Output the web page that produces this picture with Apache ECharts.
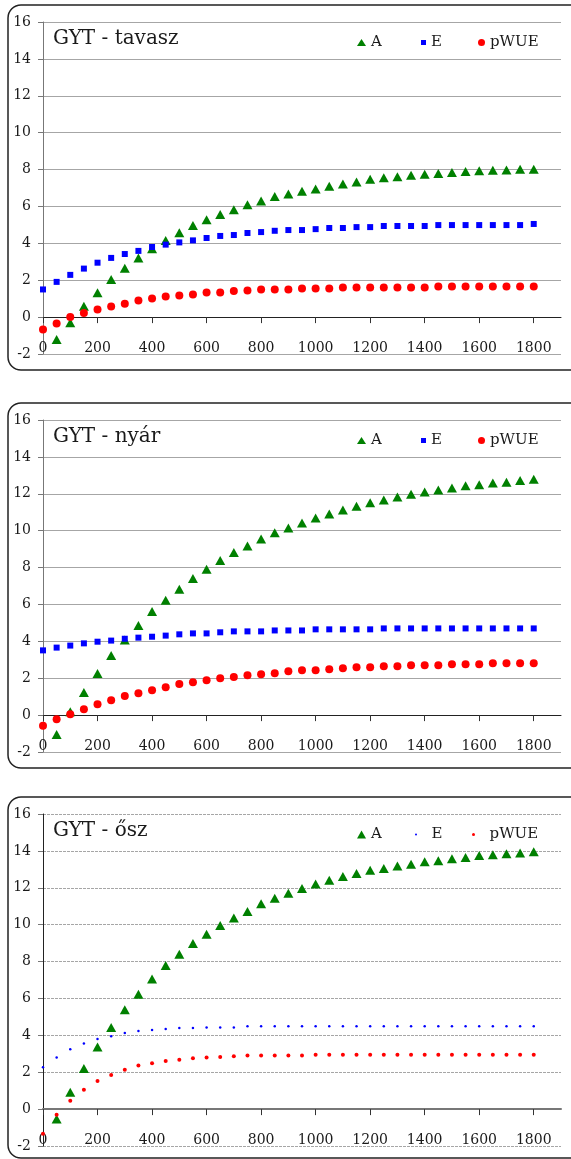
<!DOCTYPE html>
<html>
<head>
<meta charset="utf-8">
<title>GYT</title>
<script src="https://cdn.jsdelivr.net/npm/echarts@6.0.0/dist/echarts.min.js"></script>
<style>
html, body { margin: 0; padding: 0; background: #fff; overflow: hidden; }
#main { width: 571px; height: 1159px; }
</style>
</head>
<body>
<div id="main"></div>
<script>
// x: fényintenzitás lépcsők
const xVals = [0, 50, 100, 150, 200, 250, 300, 350, 400, 450, 500, 550, 600, 650, 700, 750, 800, 850, 900,
  950, 1000, 1050, 1100, 1150, 1200, 1250, 1300, 1350, 1400, 1450, 1500, 1550, 1600, 1650, 1700, 1750, 1800]
const xTicks = [0, 200, 400, 600, 800, 1000, 1200, 1400, 1600, 1800]
const titles = ['GYT - tavasz', 'GYT - nyár', 'GYT - ősz']
const names = ['A', 'E', 'pWUE']

// tavasz
const tavaszA = [null, -1.21, -0.31, 0.59, 1.32, 2.04, 2.65, 3.21, 3.71, 4.16, 4.58, 4.97, 5.28, 5.57, 5.82, 6.09, 6.29, 6.54, 6.68,
  6.83, 6.95, 7.10, 7.22, 7.33, 7.48, 7.55, 7.61, 7.69, 7.75, 7.78, 7.84, 7.89, 7.93, 7.96, 7.98, 8.02, 8.02]
const tavaszE = [1.50, 1.91, 2.29, 2.63, 2.95, 3.21, 3.42, 3.59, 3.80, 3.93, 4.05, 4.16, 4.29, 4.40, 4.45, 4.56, 4.61, 4.68, 4.72,
  4.72, 4.77, 4.83, 4.83, 4.88, 4.88, 4.94, 4.94, 4.94, 4.94, 4.99, 4.99, 4.99, 4.99, 4.99, 4.99, 4.99, 5.05]
const tavaszPWUE = [-0.67, -0.34, 0.0, 0.22, 0.41, 0.58, 0.72, 0.90, 1.01, 1.12, 1.17, 1.23, 1.33, 1.33, 1.41, 1.44, 1.50, 1.50, 1.50,
  1.55, 1.55, 1.55, 1.60, 1.60, 1.60, 1.60, 1.60, 1.60, 1.60, 1.66, 1.66, 1.66, 1.66, 1.66, 1.66, 1.66, 1.66]

// nyár
const nyarA = [null, -1.05, 0.18, 1.23, 2.25, 3.23, 4.07, 4.86, 5.62, 6.23, 6.83, 7.41, 7.91, 8.38, 8.81, 9.17, 9.55, 9.89, 10.14,
  10.41, 10.68, 10.90, 11.12, 11.32, 11.51, 11.66, 11.82, 11.98, 12.09, 12.20, 12.32, 12.43, 12.49, 12.59, 12.63, 12.72, 12.79]
const nyarE = [3.51, 3.66, 3.77, 3.89, 3.98, 4.04, 4.14, 4.20, 4.25, 4.31, 4.38, 4.43, 4.43, 4.49, 4.54, 4.54, 4.54, 4.59, 4.59,
  4.59, 4.65, 4.65, 4.65, 4.65, 4.65, 4.70, 4.70, 4.70, 4.70, 4.70, 4.70, 4.70, 4.70, 4.70, 4.70, 4.70, 4.70]
const nyarPWUE = [-0.58, -0.22, 0.05, 0.32, 0.59, 0.81, 1.03, 1.19, 1.35, 1.51, 1.68, 1.78, 1.89, 2.00, 2.07, 2.16, 2.22, 2.27, 2.38,
  2.43, 2.43, 2.49, 2.54, 2.59, 2.59, 2.65, 2.65, 2.70, 2.70, 2.70, 2.76, 2.76, 2.76, 2.81, 2.81, 2.81, 2.81]

// ősz
const oszA = [null, -0.54, 0.92, 2.20, 3.37, 4.43, 5.39, 6.23, 7.05, 7.78, 8.39, 8.98, 9.48, 9.96, 10.36, 10.71, 11.13, 11.43, 11.70,
  11.96, 12.20, 12.41, 12.61, 12.77, 12.95, 13.05, 13.18, 13.27, 13.41, 13.46, 13.57, 13.64, 13.75, 13.79, 13.84, 13.89, 13.95]
const oszE = [2.27, 2.80, 3.25, 3.56, 3.80, 3.95, 4.13, 4.23, 4.29, 4.34, 4.40, 4.40, 4.43, 4.43, 4.43, 4.49, 4.49, 4.49, 4.49,
  4.49, 4.49, 4.49, 4.49, 4.49, 4.49, 4.49, 4.49, 4.49, 4.49, 4.49, 4.49, 4.49, 4.49, 4.49, 4.49, 4.49, 4.49]
const oszPWUE = [-1.33, -0.30, 0.46, 1.05, 1.53, 1.85, 2.13, 2.36, 2.49, 2.61, 2.68, 2.76, 2.80, 2.82, 2.86, 2.90, 2.90, 2.90, 2.90,
  2.90, 2.95, 2.95, 2.95, 2.95, 2.95, 2.95, 2.95, 2.95, 2.95, 2.95, 2.95, 2.95, 2.95, 2.95, 2.95, 2.95, 2.95]

const panelData = [
  [tavaszA, tavaszE, tavaszPWUE],
  [nyarA, nyarE, nyarPWUE],
  [oszA, oszE, oszPWUE]
]

const font = 'DejaVu Serif'
const textColor = '#1a1a1a'
const colors = ['#008000', '#0000ff', '#ff0000']
const offsets = [0, 398, 792]
const plotH = 332

function pairs(ys) {
  return xVals.map((x, i) => [x, ys[i]]).filter(p => p[1] !== null)
}

const grid = [], xAxis = [], yAxis = [], series = [], title = [], legend = [], graphic = []

offsets.forEach((dy, k) => {
  const small = k === 2
  graphic.push({
    type: 'rect',
    shape: { x: 8, y: 5 + dy, width: 575, height: small ? 361 : 365, r: 13 },
    style: { fill: 'none', stroke: '#222', lineWidth: 1.5 },
    silent: true
  })
  grid.push({ left: 43, top: 22 + dy, width: 518, height: plotH })
  // az x tengely a 0 vonalon fut, -2 fölött 2 egységgel
  xAxis.push({
    type: 'value', gridIndex: k, min: 0, max: 1900, interval: 200,
    offset: -plotH * 2 / 18,
    axisLine: { onZero: false, lineStyle: { color: small ? '#777' : '#222', width: small ? 2 : 1 } },
    axisTick: { length: 6, customValues: xTicks, lineStyle: { color: '#333' } },
    axisLabel: {
      customValues: xTicks, margin: 24, color: textColor, fontFamily: font, fontSize: 14,
      formatter: v => String(v)
    },
    splitLine: { show: false }
  })
  yAxis.push({
    type: 'value', gridIndex: k, min: -2, max: 16, interval: 2,
    axisLine: { show: true, lineStyle: { color: small ? '#222' : '#777' } },
    axisTick: { show: true, length: 5, lineStyle: { color: '#777' } },
    axisLabel: { margin: 12, color: textColor, fontFamily: font, fontSize: 14 },
    splitLine: { lineStyle: { color: '#a6a6a6', width: 1, type: small ? [3, 1] : 'solid' } }
  })
  title.push({
    text: titles[k], left: 53, top: 29 + dy, padding: 0,
    textStyle: { fontFamily: font, fontSize: 20, fontWeight: 'normal', color: textColor }
  })

  const symbols = ['triangle', small ? 'circle' : 'rect', 'circle']
  const sizes = small ? [[10, 9], 2.5, 4] : [[10, 9], 6, 8]
  names.forEach((n, j) => {
    series.push({
      name: n, type: 'scatter', xAxisIndex: k, yAxisIndex: k,
      symbol: symbols[j], symbolSize: sizes[j],
      itemStyle: { color: colors[j], opacity: 1 },
      data: pairs(panelData[k][j])
    })
  })

  // jelmagyarázat, elemenként külön
  const legIcon = small ? [[9, 8], [2, 2], [3, 3]] : [[9, 7], [5, 5], [7, 7]]
  const legLeft = small ? [357, 415, 472] : [357, 421, 478]
  const legText = small ? ['A', '  E', '  pWUE'] : ['A', 'E', 'pWUE']
  names.forEach((n, j) => {
    legend.push({
      data: [{ name: n, icon: symbols[j] }],
      left: legLeft[j], top: 35 + dy, padding: 0,
      itemWidth: legIcon[j][0], itemHeight: legIcon[j][1],
      selectedMode: false,
      formatter: () => legText[j],
      textStyle: { fontFamily: font, fontSize: 15, color: textColor }
    })
  })
})

const option = {
  animation: false,
  backgroundColor: '#fff',
  grid, xAxis, yAxis, series, title, legend, graphic
}

const chart = echarts.init(document.getElementById('main'))
chart.setOption(option)
</script>
</body>
</html>
